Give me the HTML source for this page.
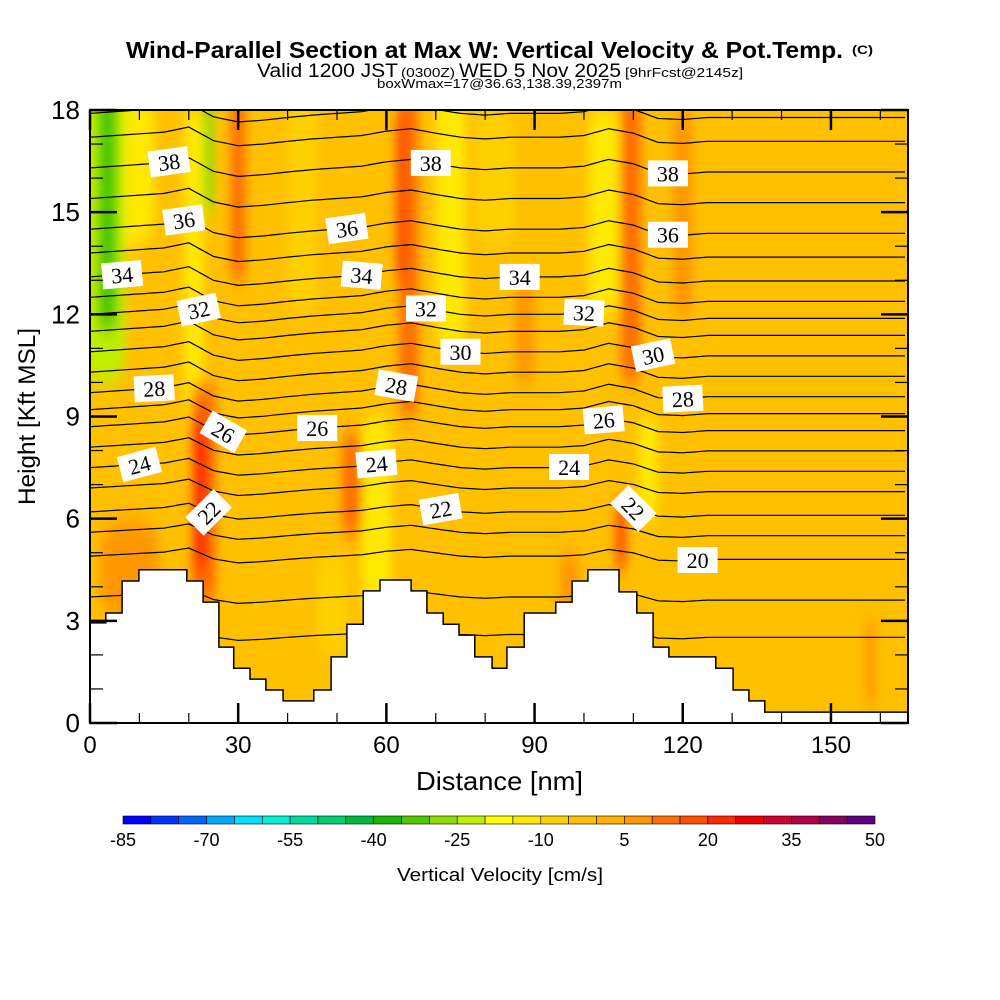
<!DOCTYPE html>
<html><head><meta charset="utf-8"><style>
html,body{margin:0;padding:0;background:#fff;}
svg{display:block;font-family:"Liberation Sans",sans-serif;}
</style></head><body>
<svg id="chart" width="1000" height="1000" viewBox="0 0 1000 1000" xmlns="http://www.w3.org/2000/svg">
<defs>
<clipPath id="plotclip"><rect x="90" y="110" width="818" height="613"/></clipPath>
<filter id="soft" x="-50%" y="-20%" width="200%" height="140%"><feGaussianBlur stdDeviation="5 10"/></filter>
</defs>
<g id="titles">
<text x="126" y="58" font-size="23" font-weight="bold" textLength="717" lengthAdjust="spacingAndGlyphs">Wind-Parallel Section at Max W: Vertical Velocity &amp; Pot.Temp.</text>
<text x="852" y="54" font-size="12" font-weight="bold" textLength="21" lengthAdjust="spacingAndGlyphs">(C)</text>
<text x="257" y="77" font-size="19" textLength="141" lengthAdjust="spacingAndGlyphs">Valid 1200 JST</text>
<text x="401" y="77" font-size="13" textLength="54" lengthAdjust="spacingAndGlyphs">(0300Z)</text>
<text x="459" y="77" font-size="19" textLength="162" lengthAdjust="spacingAndGlyphs">WED 5 Nov 2025</text>
<text x="625" y="77" font-size="13" textLength="118" lengthAdjust="spacingAndGlyphs">[9hrFcst@2145z]</text>
<text x="377" y="88" font-size="13" textLength="245" lengthAdjust="spacingAndGlyphs">boxWmax=17@36.63,138.39,2397m</text>
</g>
<g id="plot" clip-path="url(#plotclip)">
<rect x="90" y="110" width="818" height="613" fill="#ffc000"/>
<g id="field" filter="url(#soft)"></g>
<g id="contours"></g>
<polygon id="terrain" fill="#fff" stroke="#000" stroke-width="1.5"/>
<g id="labels"></g>
</g>
<rect x="90" y="110" width="818" height="613" fill="none" stroke="#000" stroke-width="2"/>
<g id="axes"></g>
<text x="416" y="790" font-size="26" textLength="167" lengthAdjust="spacingAndGlyphs">Distance [nm]</text>
<text transform="translate(35,505) rotate(-90)" font-size="24" textLength="177" lengthAdjust="spacingAndGlyphs">Height [Kft MSL]</text>
<g id="colorbar"></g>
<text x="397" y="881" font-size="18" textLength="206" lengthAdjust="spacingAndGlyphs">Vertical Velocity [cm/s]</text>
</svg>
<script>
// ---- data ----
const cbColors = ["#0000ff","#0033ff","#0066ff","#00a8ff","#00e0ff","#00f0d8","#00dca0","#00d070","#00b840","#18b800","#50c800","#90dc00","#c0f000","#ffff00","#ffe800","#ffd000","#ffc000","#ffb000","#ff9800","#ff7000","#ff5000","#ff2800","#f00000","#d00030","#b00048","#880060","#600080"];
const cbTicks = [-85,-70,-55,-40,-25,-10,5,20,35,50];
const terrainX = [0,3.2,6.5,9.9,13.2,19.6,22.9,26.1,29.1,32.4,35.6,39.1,45.3,48.8,52.0,55.3,58.7,65.0,68.2,71.5,74.7,77.9,81.4,84.4,87.9,94.3,97.6,100.8,107.1,110.7,114.0,117.2,126.7,130.2,133.4,136.6];
const terrainH = [2.94,3.23,4.17,4.5,4.5,4.17,3.55,2.23,1.61,1.29,0.97,0.65,0.97,1.94,2.9,3.88,4.2,3.88,3.23,2.9,2.58,1.94,1.61,2.23,3.23,3.55,4.17,4.5,3.85,3.23,2.23,1.94,1.61,0.97,0.65,0.32];
const thetaLevels = [18,19,20,21,22,23,24,25,26,27,28,29,30,31,32,33,34,35,36,37,38,39,40];
const thetaMeanHt = [2.6,3.7,4.9,5.6,6.2,6.9,7.5,8.1,8.7,9.2,9.7,10.3,10.9,11.5,12.0,12.5,13.1,13.8,14.5,15.4,16.3,17.2,17.9];
const waveX = [0,5,10,15,20,25,30,35,40,45,50,55,60,65,70,75,80,85,90,95,100,105,110,115,120,125,130,135,140,145,150,155,160,166];
const waveDisp = [0,0.05,0.1,0.15,0.3,-0.1,-0.25,-0.2,-0.12,-0.05,0,0.05,0.18,0.25,0.12,0,-0.05,0,0,0,0.05,0.25,0.12,-0.15,-0.18,-0.12,-0.12,-0.12,-0.12,-0.12,-0.12,-0.12,-0.12,-0.12];
const labelLevel = [38,38,38,36,36,36,34,34,34,32,32,32,30,30,28,28,28,26,26,26,24,24,24,22,22,22,20];
const labelX =     [16,69,117,19,52,117,6.5,55,87,22,68,100,75,114,13,62,120,27,46,104,10,58,97,24,71,110,123];
const labelAngle = [-8,0,0,-8,-8,0,-5,5,0,-12,0,3,0,-12,-3,10,-3,30,0,-5,-15,-5,0,-45,-10,45,0];
const plumeX =  [8,3,3.5,21,23,22.5,30,24,43,73,64.5,63,58,53,49,88,82,104,109.5,107.5,113,120,8,97,158];
const plumeHW = [5,4,2,2,2.5,1.3,1.5,1.0,3,3,2,1.1,3,2,3,2,4,3,2,1.1,2,2,6,2,1];
const plumeY0 = [14,10,11.5,9,3.5,4.5,13,15,12,11,9,13,3,5.5,2,10,14,12,10,4.5,6,12,3,3,0.5];
const plumeY1 = [18.5,18.5,18.5,18,10,9,18.5,18.5,18.5,18.5,18.5,18,9,8.5,5,13,18,18,18.5,6.5,9,18,6,5,3];
const plumeW =  [-12,-22,-35,-12,10,22,12,-30,-8,-12,12,18,-12,10,-10,7,-10,-12,12,15,-12,7,7,9,9];

// ---- scales ----
const X0=90, X1=908, Y0=723, Y1=110, XMAX=165.6, YMAX=18;
const sx = v => X0 + v/XMAX*(X1-X0);
const sy = v => Y0 - v/YMAX*(Y0-Y1);
const colorOf = w => { let i=Math.floor((w+85)/5); i=Math.max(0,Math.min(cbColors.length-1,i)); return cbColors[i]; };
const NS="http://www.w3.org/2000/svg";
const mk=(t,a,p)=>{const e=document.createElementNS(NS,t);for(const k in a)e.setAttribute(k,a[k]);p.appendChild(e);return e;};
const wave = x => { for(let i=0;i<waveX.length-1;i++){ if(x<=waveX[i+1]){const t=(x-waveX[i])/(waveX[i+1]-waveX[i]);return waveDisp[i]+t*(waveDisp[i+1]-waveDisp[i]);} } return waveDisp[waveDisp.length-1]; };
const contourHt = (li,x) => thetaMeanHt[li] + wave(x)*(0.6+0.4*Math.min(1,thetaMeanHt[li]/10));

// field plumes
const field=document.getElementById('field');
for(let i=0;i<plumeX.length;i++){
  const e=mk('rect',{x:sx(plumeX[i]-plumeHW[i]),y:sy(plumeY1[i]),width:sx(plumeHW[i]*2)-X0,height:sy(plumeY0[i])-sy(plumeY1[i]),rx:sx(plumeHW[i])-X0,fill:colorOf(plumeW[i])},field);
  
  
}

// contours
const cg=document.getElementById('contours');
thetaLevels.forEach((lv,li)=>{
  let d='';
  for(let x=0;x<=XMAX;x+=1){ d+=(x===0?'M':'L')+sx(x).toFixed(1)+','+sy(contourHt(li,x)).toFixed(1); }
  const p=mk('path',{d:d,fill:'none',stroke:'#000','stroke-width':1.2},cg);
  
  
});

// terrain
let pts=[[sx(0),Y0+2]];
for(let i=0;i<terrainX.length;i++){
  const xa=sx(terrainX[i]), xb=i<terrainX.length-1?sx(terrainX[i+1]):X1+2;
  pts.push([xa,sy(terrainH[i])]); pts.push([xb,sy(terrainH[i])]);
}
pts.push([X1+2,Y0+2]);
document.getElementById('terrain').setAttribute('points',pts.map(p=>p[0].toFixed(1)+','+p[1].toFixed(1)).join(' '));

// labels
const lg=document.getElementById('labels');
for(let i=0;i<labelLevel.length;i++){
  const li=thetaLevels.indexOf(labelLevel[i]);
  const cx=sx(labelX[i]), cy=sy(contourHt(li,labelX[i]));
  const g=mk('g',{transform:`translate(${cx.toFixed(1)},${cy.toFixed(1)}) rotate(${labelAngle[i]})`},lg);
  
  
  mk('rect',{x:-20,y:-13,width:40,height:26,fill:'#fff'},g);
  const t=mk('text',{x:0,y:8,'text-anchor':'middle','font-size':22,'font-family':'"Liberation Serif",serif'},g);
  t.textContent=labelLevel[i];
}

// axes
const ax=document.getElementById('axes');
for(let k=0;k<=18;k++){
  const y=sy(k), L=(k%3===0)?27:13;
  mk('line',{x1:X0,y1:y,x2:X0+L,y2:y,stroke:'#000','stroke-width':k%3===0?2.5:1.2},ax);
  mk('line',{x1:X1,y1:y,x2:X1-L,y2:y,stroke:'#000','stroke-width':k%3===0?2.5:1.2},ax);
  if(k%3===0){
    const t=mk('text',{x:80,y:y+9,'text-anchor':'end','font-size':26},ax);
    
    
    t.textContent=k;
  }
}
for(let v=0;v<=160;v+=10){
  const x=sx(v), L=(v%30===0)?20:10;
  mk('line',{x1:x,y1:Y0,x2:x,y2:Y0-L,stroke:'#000','stroke-width':v%30===0?2.5:1.2},ax);
  mk('line',{x1:x,y1:Y1,x2:x,y2:Y1+L,stroke:'#000','stroke-width':v%30===0?2.5:1.2},ax);
  if(v%30===0){
    const t=mk('text',{x:x,y:753,'text-anchor':'middle','font-size':24},ax);
    
    
    t.textContent=v;
  }
}

// colorbar
const cb=document.getElementById('colorbar');
const CB0=123, CB1=875, segW=(CB1-CB0)/cbColors.length;
cbColors.forEach((c,i)=>{
  const r=mk('rect',{x:CB0+i*segW,y:816,width:segW,height:8,fill:c,stroke:'#000','stroke-width':0.6},cb);
  
  
});
cbTicks.forEach(v=>{
  const x=CB0+(v+85)/5*segW;
  const t=mk('text',{x:x,y:846,'text-anchor':'middle','font-size':18},cb);
  
  
  t.textContent=v;
});
</script>
</body></html>
